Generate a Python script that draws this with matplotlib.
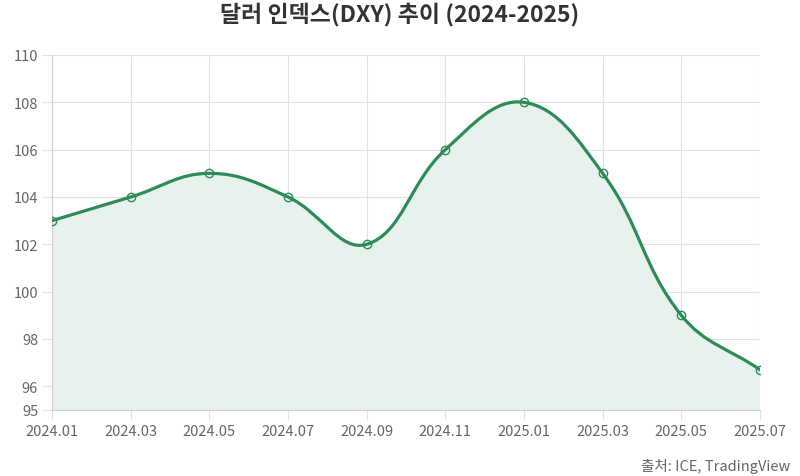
import numpy as np
import matplotlib
matplotlib.use("Agg")
import matplotlib.pyplot as plt
from matplotlib.path import Path
from matplotlib.patches import PathPatch

plt.rcParams['font.family'] = ['Noto Sans CJK KR', 'DejaVu Sans']

months = ["2024.01", "2024.03", "2024.05", "2024.07", "2024.09", "2024.11",
          "2025.01", "2025.03", "2025.05", "2025.07"]
dxy = [103, 104, 105, 104, 102, 106, 108, 105, 99, 96.7]
yticks = [95, 96, 98, 100, 102, 104, 106, 108, 110]

title = "달러 인덱스(DXY) 추이 (2024-2025)"
ylabel = "지수"
source = "출처: ICE, TradingView"

line_color = "#2e8b57"
fill_color = "#e8f2ec"
grid_color = "#e2e2e2"
text_color = "#666666"

W, H = 800, 477
fig = plt.figure(figsize=(W / 100, H / 100), dpi=100)
ax = fig.add_axes([52 / W, 1 - 411 / H, (760 - 52) / W, (411 - 56) / H])

x = np.arange(len(dxy))
ax.set_xlim(0, len(dxy) - 1)
ax.set_ylim(95, 110)
fig.canvas.draw()

# Chart.js-style spline (tension 0.4) computed in pixel space
pts = ax.transData.transform(np.column_stack([x, dxy]))
t = 0.4
n = len(pts)
cps_prev = np.zeros_like(pts)
cps_next = np.zeros_like(pts)
for i in range(n):
    prev = pts[i - 1] if i > 0 else pts[i]
    cur = pts[i]
    nxt = pts[i + 1] if i < n - 1 else pts[i]
    d01 = np.hypot(*(cur - prev))
    d12 = np.hypot(*(nxt - cur))
    s01 = d01 / (d01 + d12) if (d01 + d12) else 0
    s12 = d12 / (d01 + d12) if (d01 + d12) else 0
    fa, fb = t * s01, t * s12
    cps_prev[i] = cur - fa * (nxt - prev)
    cps_next[i] = cur + fb * (nxt - prev)

verts = [pts[0]]
codes = [Path.MOVETO]
for i in range(n - 1):
    verts += [cps_next[i], cps_prev[i + 1], pts[i + 1]]
    codes += [Path.CURVE4] * 3
inv = ax.transData.inverted()
verts_data = inv.transform(np.array(verts))

curve = Path(verts_data, codes)
fill_verts = list(verts_data) + [[x[-1], 95], [x[0], 95], verts_data[0]]
fill_codes = list(codes) + [Path.LINETO, Path.LINETO, Path.CLOSEPOLY]
ax.add_patch(PathPatch(Path(fill_verts, fill_codes), facecolor=fill_color,
                       edgecolor='none', zorder=1))
ax.add_patch(PathPatch(curve, facecolor='none', edgecolor=line_color,
                       linewidth=2.3, zorder=3, capstyle='round', joinstyle='round'))
ax.plot(x, dxy, linestyle='none', marker='o', markersize=6,
        markerfacecolor='none', markeredgecolor=line_color,
        markeredgewidth=1.0, zorder=4)

ax.set_xticks(x)
ax.set_xticklabels(months)
ax.set_yticks(yticks)
ax.set_yticklabels([str(v) for v in yticks])
ax.grid(True, color=grid_color, linewidth=0.8, zorder=0)
ax.set_axisbelow(True)
ax.tick_params(axis='both', colors=grid_color, labelcolor=text_color,
               labelsize=10.5, length=7, width=0.8, pad=3)
for s in ["top", "right"]:
    ax.spines[s].set_visible(False)
for s in ["left", "bottom"]:
    ax.spines[s].set_color("#d0d0d0")
    ax.spines[s].set_linewidth(0.8)

fig.text(400 / W, 1 - 14 / H, title, ha='center', va='center',
         fontsize=16.5, fontweight='bold', color='#333333')
fig.text(-5 / W, 1 - 233 / H, ylabel, rotation=90, ha='center', va='center',
         fontsize=10.5, color=text_color)
fig.text(790 / W, 1 - 467 / H, source, ha='right', va='center',
         fontsize=10.5, color=text_color)

fig.savefig("out.png", dpi=100)
